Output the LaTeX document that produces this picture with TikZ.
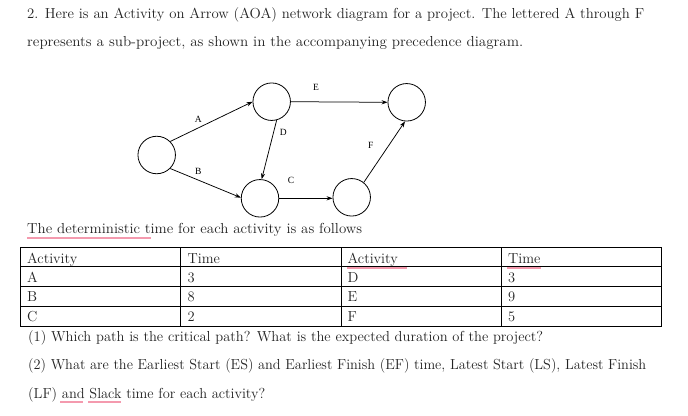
\documentclass[tikz,border=0pt]{standalone}
\usepackage{fontspec}
\usetikzlibrary{arrows.meta}
\newfontfamily\lblfont{Liberation Serif}
\definecolor{pinkline}{HTML}{F49AAE}
\definecolor{ink}{HTML}{222222}
\newcommand\fitw[2]{\resizebox{#1pt}{\height}{#2}}
\begin{document}
\begin{tikzpicture}[x=1pt,y=-1pt,
  txt/.style={anchor=base west,inner sep=0pt,text=ink,font=\fontsize{14.5}{17}\selectfont},
  event/.style={circle,draw,line width=0.8pt,minimum size=37.5pt,inner sep=0pt},
  act/.style={line width=0.75pt,-{Stealth[length=6pt,width=4.2pt]}},
  lbl/.style={inner sep=0pt,font=\lblfont\fontsize{9.5}{11}\selectfont},
  squig/.style={draw=pinkline,line width=2pt},
  grid/.style={line width=1pt}]
\useasboundingbox[fill=white] (0,0) rectangle (688,415);

% heading text
\node[txt] (l1) at (27,18) {\fitw{617}{2. Here is an Activity on Arrow (AOA) network diagram for a project. The lettered A through F}};
\node[txt] (l2) at (27,46) {\fitw{496}{represents a sub-project, as shown in the accompanying precedence diagram.}};

% network
\node[event] (s)  at (156.7,155) {};
\node[event] (tm) at (271.7,101.7) {};
\node[event] (tr) at (406.7,102.3) {};
\node[event] (bm) at (260,198.3) {};
\node[event] (br) at (351.7,197.3) {};

\draw[act] (s.45) -- (tm.180);
\draw[act] (s.-45) -- (bm.178);
\draw[act] (tm.-75) -- (bm.85);
\draw[act] (tm.0) -- (tr.180);
\draw[act] (bm.0) -- (bm.0 -| br.west);
\draw[act] (br.51) -- (tr.-95);

\node[lbl] (la) at (198.3,119.3) {A};
\node[lbl] (le) at (316,87.3) {E};
\node[lbl] (ld) at (283.3,132.7) {D};
\node[lbl] (lf) at (370.7,145) {F};
\node[lbl] (lb) at (198.3,171.7) {B};
\node[lbl] (lc) at (291,180) {C};

% table caption
\node[txt] (cap) at (27,233.3) {\fitw{335}{The deterministic time for each activity is as follows}};
\draw[squig] (27,237.7) -- (151,237.7);

% table
\draw[grid] (20,247.3) rectangle (661.5,326);
\foreach \yy in {266.7,286.3,306} \draw[grid] (20,\yy) -- (661.5,\yy);
\foreach \xx in {180.5,341,501} \draw[grid] (\xx,247.3) -- (\xx,326);

\node[txt] (h1) at (27,263) {Activity};
\node[txt] (h2) at (187.5,263) {Time};
\node[txt] (h3) at (347.5,263) {Activity};
\node[txt] (h4) at (508,263) {Time};
\draw[squig] (347.3,268.2) -- (406.7,268.2);
\draw[squig] (507.3,268.2) -- (540.7,268.2);

\node[txt] (a1) at (27,282) {A};
\node[txt] (a2) at (187.5,282) {3};
\node[txt] (a3) at (347.5,282) {D};
\node[txt] (a4) at (508,282) {3};
\node[txt] (b1) at (27,301.5) {B};
\node[txt] (b2) at (187.5,301.5) {8};
\node[txt] (b3) at (347.5,301.5) {E};
\node[txt] (b4) at (508,301.5) {9};
\node[txt] (c1) at (27,321) {C};
\node[txt] (c2) at (187.5,321) {2};
\node[txt] (c3) at (347.5,321) {F};
\node[txt] (c4) at (508,321) {5};

% questions
\node[txt] (q1) at (28,341.5) {\fitw{515}{(1) Which path is the critical path? What is the expected duration of the project?}};
\node[txt] (q2) at (28,369.5) {\fitw{618}{(2) What are the Earliest Start (ES) and Earliest Finish (EF) time, Latest Start (LS), Latest Finish}};
\node[txt] (q3) at (28,398) {\fitw{237}{(LF) and Slack time for each activity?}};
\draw[squig] (60,401.7) -- (82.7,401.7);
\draw[squig] (88.3,401.7) -- (121,401.7);
\end{tikzpicture}
\end{document}
